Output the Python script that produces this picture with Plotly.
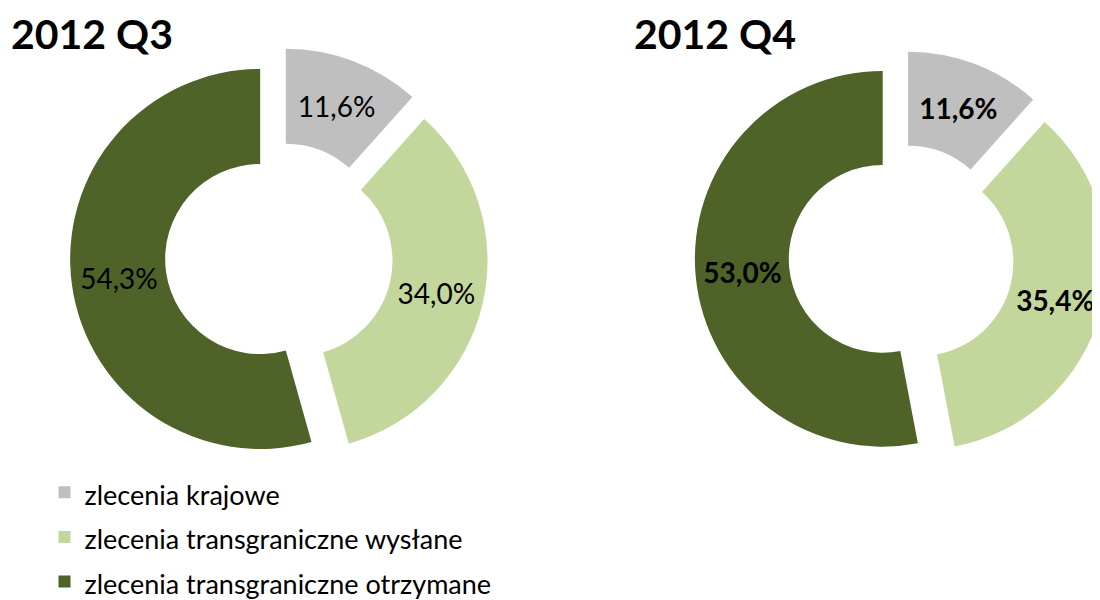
import plotly.graph_objects as go

labels = ["zlecenia krajowe", "zlecenia transgraniczne wysłane", "zlecenia transgraniczne otrzymane"]
q3_values = [11.6, 34.0, 54.3]
q4_values = [11.6, 35.4, 53.0]
titles = ["2012 Q3", "2012 Q4"]
colors = ["#BFBFBF", "#C3D69B", "#4F6228"]

W, H = 1100, 600
# legend rows are spaced by the legend font size; the visible text is a bit smaller
legend_labels = [f"<span style='font-size:27px'>{t}</span>" for t in labels]

fig = go.Figure()

common = dict(
    labels=legend_labels,
    sort=False,
    direction="clockwise",
    rotation=0,
    hole=0.5,
    pull=[0.1, 0.1, 0.1],
    marker=dict(colors=colors, line=dict(width=0)),
    textposition="inside",
    insidetextorientation="horizontal",
    texttemplate="%{value:.1f}%",
    hoverinfo="value",
)

# Q3 pie
fig.add_trace(go.Pie(
    values=q3_values, name=titles[0],
    domain=dict(x=[62 / W, 480 / W], y=[1 - 457.4 / H, 1 - 39.4 / H]),
    textfont=dict(family="Lato", size=28, color="#000000"),
    **common,
))
# Q4 pie
fig.add_trace(go.Pie(
    values=q4_values, name=titles[1],
    domain=dict(x=[686.8 / W, 1.0], y=[1 - 455.7 / H, 1 - 42.5 / H]),
    textfont=dict(family="Lato", size=28, color="#000000", weight="bold"),
    showlegend=False,
    **common,
))

fig.add_annotation(text="<b>2012 Q3</b>", x=2 / W, y=1.0, xref="paper", yref="paper",
                   xanchor="left", yanchor="top", showarrow=False, borderpad=0,
                   font=dict(family="Lato", size=41, color="#000000"))
fig.add_annotation(text="<b>2012 Q4</b>", x=625 / W, y=1.0, xref="paper", yref="paper",
                   xanchor="left", yanchor="top", showarrow=False, borderpad=0,
                   font=dict(family="Lato", size=41, color="#000000"))

fig.update_layout(
    width=W, height=H,
    margin=dict(l=0, r=0, t=0, b=0, autoexpand=False),
    paper_bgcolor="#FFFFFF",
    plot_bgcolor="#FFFFFF",
    separators=", ",
    showlegend=True,
    legend=dict(
        x=36.5 / W, y=1 - 457 / H, xanchor="left", yanchor="top",
        orientation="v",
        font=dict(family="Lato", size=32, color="#000000"),
        bgcolor="rgba(0,0,0,0)",
    ),
)

fig.write_html("out.html")
